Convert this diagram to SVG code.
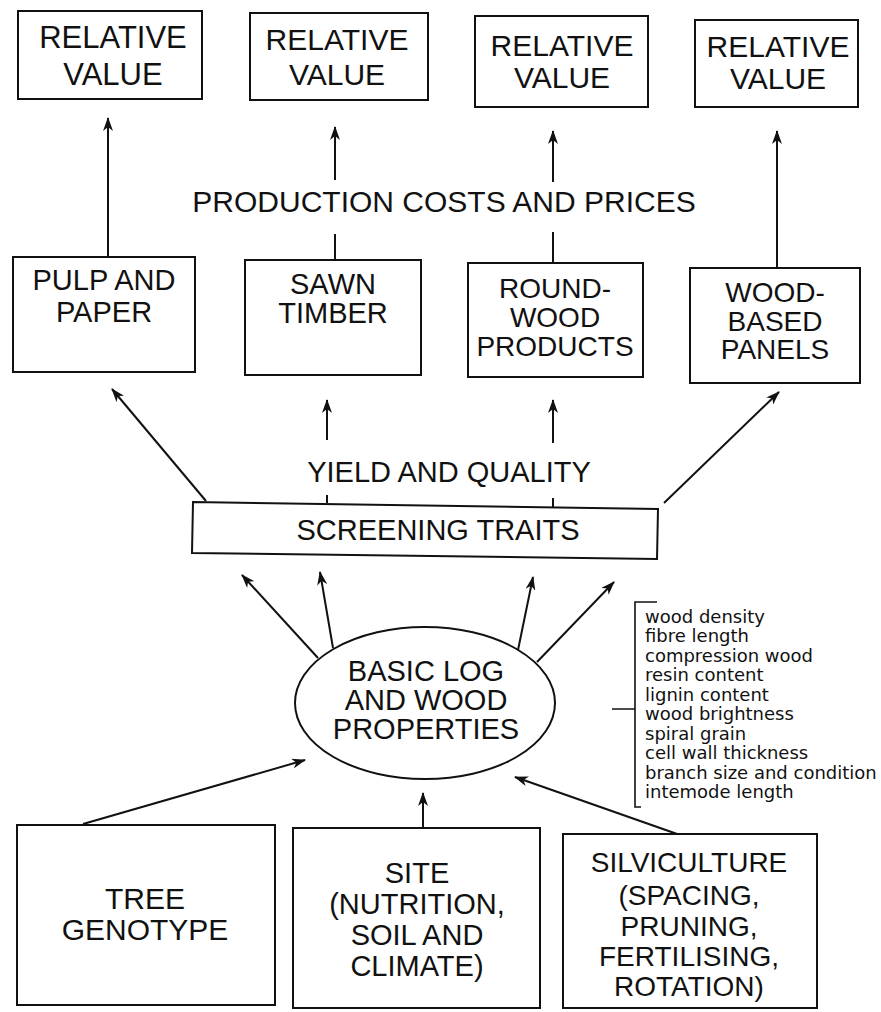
<svg xmlns="http://www.w3.org/2000/svg" width="881" height="1012" viewBox="0 0 881 1012">
<defs>
<style>
.bx{fill:#fff;stroke:#111;stroke-width:2}
.ln{fill:none;stroke:#111;stroke-width:2}
.t{font-family:"Liberation Sans",Arial,sans-serif;fill:#111;text-anchor:middle}
.big{font-size:30px}
.mid{font-size:29px}
.sm{font-size:28px}
.lst{font-family:"DejaVu Sans","Liberation Sans",sans-serif;font-size:18px;fill:#111}
</style>
<marker id="ah" viewBox="0 0 14 10" refX="13" refY="5" markerWidth="14" markerHeight="10" markerUnits="userSpaceOnUse" orient="auto">
<path d="M0,0 L14,5 L0,10 L4,5 z" fill="#111"/>
</marker>
</defs>
<rect width="881" height="1012" fill="#fff"/>

<g id="connectors">
<line class="ln" x1="108" y1="257" x2="108" y2="118" marker-end="url(#ah)"/>
<line class="ln" x1="335" y1="180" x2="335" y2="127" marker-end="url(#ah)"/>
<line class="ln" x1="335" y1="234" x2="335" y2="260"/>
<line class="ln" x1="553" y1="182" x2="553" y2="131" marker-end="url(#ah)"/>
<line class="ln" x1="553" y1="232" x2="553" y2="263"/>
<line class="ln" x1="777" y1="268" x2="777" y2="131" marker-end="url(#ah)"/>
<line class="ln" x1="206" y1="501" x2="112" y2="389" marker-end="url(#ah)"/>
<line class="ln" x1="664" y1="503" x2="779" y2="392" marker-end="url(#ah)"/>
<line class="ln" x1="327" y1="440" x2="327" y2="400" marker-end="url(#ah)"/>
<line class="ln" x1="327" y1="495" x2="327" y2="503"/>
<line class="ln" x1="553" y1="443" x2="553" y2="400" marker-end="url(#ah)"/>
<line class="ln" x1="553" y1="498" x2="553" y2="507"/>
<line class="ln" x1="318" y1="658" x2="242" y2="575" marker-end="url(#ah)"/>
<line class="ln" x1="333" y1="648" x2="320" y2="572" marker-end="url(#ah)"/>
<line class="ln" x1="518" y1="650" x2="533" y2="577" marker-end="url(#ah)"/>
<line class="ln" x1="537" y1="662" x2="614" y2="582" marker-end="url(#ah)"/>
<line class="ln" x1="83" y1="824" x2="305" y2="760" marker-end="url(#ah)"/>
<line class="ln" x1="423" y1="829" x2="423" y2="793" marker-end="url(#ah)"/>
<line class="ln" x1="680" y1="835" x2="515" y2="777" marker-end="url(#ah)"/>
</g>

<g id="rv1"><rect class="bx" x="18" y="11" width="184" height="88"/>
<text class="t" style="font-size:31px" x="113" y="48">RELATIVE</text><text class="t" style="font-size:31px" x="113" y="85">VALUE</text></g>
<g id="rv2"><rect class="bx" x="250" y="13" width="178" height="87"/>
<text class="t big" x="337" y="50">RELATIVE</text><text class="t big" x="337" y="85">VALUE</text></g>
<g id="rv3"><rect class="bx" x="475" y="16" width="173" height="91"/>
<text class="t big" x="562" y="56">RELATIVE</text><text class="t big" x="562" y="88">VALUE</text></g>
<g id="rv4"><rect class="bx" x="695" y="20" width="163" height="87"/>
<text class="t big" x="778" y="57">RELATIVE</text><text class="t big" x="778" y="89">VALUE</text></g>

<g id="prodcosts"><text class="t" style="font-size:30px" x="444" y="212">PRODUCTION COSTS AND PRICES</text></g>

<g id="pulp"><rect class="bx" x="13" y="257" width="182" height="115"/>
<text class="t mid" x="104" y="290">PULP AND</text><text class="t mid" x="104" y="322">PAPER</text></g>
<g id="sawn"><rect class="bx" x="245" y="260" width="176" height="115"/>
<text class="t mid" x="333" y="294">SAWN</text><text class="t mid" x="333" y="323">TIMBER</text></g>
<g id="round"><rect class="bx" x="468" y="263" width="175" height="114"/>
<text class="t sm" x="555" y="298">ROUND-</text><text class="t sm" x="555" y="327">WOOD</text><text class="t sm" x="555" y="356">PRODUCTS</text></g>
<g id="panels"><rect class="bx" x="690" y="268" width="170" height="115"/>
<text class="t sm" x="775" y="302">WOOD-</text><text class="t sm" x="775" y="331">BASED</text><text class="t sm" x="775" y="359">PANELS</text></g>

<g id="yield"><text class="t mid" x="449" y="482">YIELD AND QUALITY</text></g>

<g id="screening"><path class="bx" d="M193,502 L658,509 L657,559 L192,553 Z"/>
<text class="t mid" x="438" y="540">SCREENING TRAITS</text></g>

<g id="basic"><ellipse class="bx" cx="425" cy="703" rx="130" ry="76"/>
<text class="t mid" x="426" y="681">BASIC LOG</text><text class="t mid" x="426" y="710">AND WOOD</text><text class="t mid" x="426" y="739">PROPERTIES</text></g>

<g id="traits">
<path class="ln" d="M657,602 L635,602 L635,807 L641,807 M612,709 L635,709" style="stroke-width:1.6"/>
<text class="lst" x="645" y="623">wood density</text>
<text class="lst" x="645" y="642">fibre length</text>
<text class="lst" x="645" y="662">compression wood</text>
<text class="lst" x="645" y="681">resin content</text>
<text class="lst" x="645" y="701">lignin content</text>
<text class="lst" x="645" y="720">wood brightness</text>
<text class="lst" x="645" y="740">spiral grain</text>
<text class="lst" x="645" y="759">cell wall thickness</text>
<text class="lst" x="645" y="779">branch size and condition</text>
<text class="lst" x="645" y="798">intemode length</text>
</g>

<g id="genotype"><rect class="bx" x="17" y="825" width="258" height="180"/>
<text class="t" style="font-size:30px" x="145" y="909">TREE</text><text class="t" style="font-size:30px" x="145" y="940">GENOTYPE</text></g>
<g id="site"><rect class="bx" x="293" y="828" width="247" height="180"/>
<text class="t mid" x="417" y="883">SITE</text><text class="t mid" x="417" y="914">(NUTRITION,</text><text class="t mid" x="417" y="945">SOIL AND</text><text class="t mid" x="417" y="976">CLIMATE)</text></g>
<g id="silv"><rect class="bx" x="563" y="834" width="254" height="174"/>
<text class="t sm" x="689" y="872">SILVICULTURE</text><text class="t sm" x="689" y="905">(SPACING,</text><text class="t sm" x="689" y="936">PRUNING,</text><text class="t sm" x="689" y="966">FERTILISING,</text><text class="t sm" x="689" y="996">ROTATION)</text></g>
</svg>
